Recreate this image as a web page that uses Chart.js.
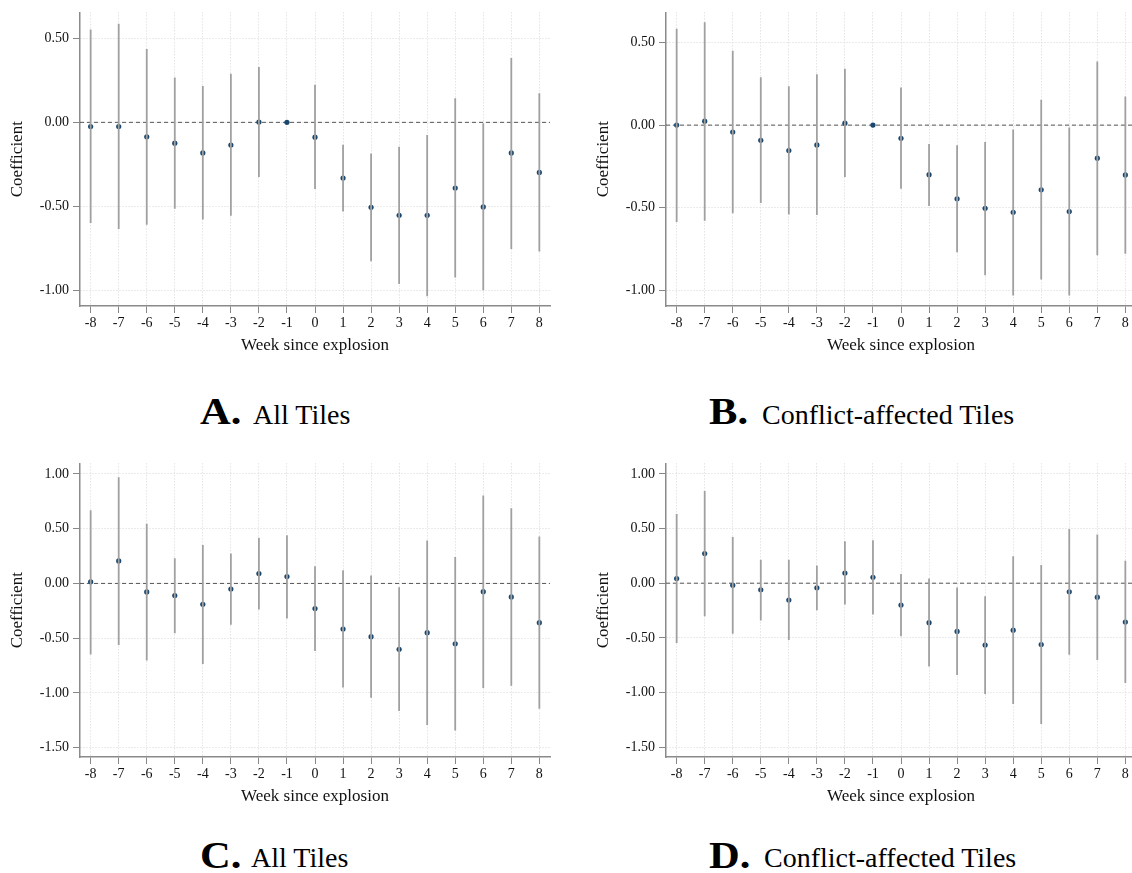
<!DOCTYPE html>
<html>
<head>
<meta charset="utf-8">
<script src="https://cdn.jsdelivr.net/npm/chart.js@4"></script>
<style>
  html, body { margin: 0; padding: 0; background: #fff; overflow: hidden; }
  body { width: 1132px; height: 873px; position: relative; font-family: 'Liberation Serif', serif; }
  .panel { position: absolute; }
  .cap { position: absolute; line-height: 1; white-space: nowrap; color: #000; }
  .cap b { font-weight: bold; display: inline-block; transform: scaleX(1.15); transform-origin: left center; }
</style>
</head>
<body>

<div class="panel" style="left:0px;top:0px"><canvas id="chartA" width="566" height="356"></canvas></div>
<div class="panel" style="left:586px;top:0px"><canvas id="chartB" width="566" height="356"></canvas></div>
<div class="panel" style="left:0px;top:451px"><canvas id="chartC" width="566" height="356"></canvas></div>
<div class="panel" style="left:586px;top:451px"><canvas id="chartD" width="566" height="356"></canvas></div>

<div class="cap" style="left:200px;top:393px;font-size:37px"><b>A.</b></div>
<div class="cap" style="left:253px;top:401px;font-size:28px">All Tiles</div>
<div class="cap" style="left:709px;top:393px;font-size:37px"><b>B.</b></div>
<div class="cap" style="left:762px;top:401px;font-size:28px">Conflict-affected Tiles</div>
<div class="cap" style="left:200px;top:837px;font-size:37px"><b>C.</b></div>
<div class="cap" style="left:251px;top:844px;font-size:28px">All Tiles</div>
<div class="cap" style="left:709px;top:837px;font-size:37px"><b>D.</b></div>
<div class="cap" style="left:764px;top:844px;font-size:28px">Conflict-affected Tiles</div>

<script>
// weeks since explosion (x categories)
const weeks = [-8, -7, -6, -5, -4, -3, -2, -1, 0, 1, 2, 3, 4, 5, 6, 7, 8];

// y tick labels
const yTicksTop = [-1.0, -0.5, 0.0, 0.5];
const yTicksBottom = [-1.5, -1.0, -0.5, 0.0, 0.5, 1.0];

// A. All Tiles (top)
const coefA = [-0.025, -0.025, -0.086, -0.124, -0.182, -0.135, 0.002, 0, -0.088, -0.332, -0.506, -0.554, -0.554, -0.391, -0.504, -0.182, -0.298];
const loA   = [-0.600, -0.636, -0.610, -0.514, -0.578, -0.557, -0.325, 0, -0.397, -0.531, -0.827, -0.963, -1.036, -0.924, -1.000, -0.755, -0.769];
const hiA   = [0.553, 0.588, 0.437, 0.267, 0.216, 0.290, 0.330, 0, 0.224, -0.133, -0.186, -0.145, -0.075, 0.143, -0.005, 0.384, 0.173];

// B. Conflict-affected Tiles (top)
const coefB = [0.000, 0.024, -0.042, -0.092, -0.154, -0.120, 0.012, 0, -0.080, -0.300, -0.446, -0.504, -0.528, -0.392, -0.524, -0.200, -0.302];
const loB   = [-0.587, -0.580, -0.534, -0.472, -0.542, -0.544, -0.314, 0, -0.386, -0.490, -0.770, -0.910, -1.032, -0.935, -1.033, -0.788, -0.780];
const hiB   = [0.584, 0.624, 0.450, 0.290, 0.236, 0.308, 0.342, 0, 0.228, -0.114, -0.122, -0.102, -0.026, 0.154, -0.014, 0.386, 0.174];

// C. All Tiles (bottom)
const coefC = [0.015, 0.205, -0.078, -0.111, -0.191, -0.051, 0.090, 0.063, -0.229, -0.416, -0.486, -0.602, -0.450, -0.551, -0.075, -0.123, -0.358];
const loC   = [-0.648, -0.563, -0.703, -0.456, -0.735, -0.377, -0.238, -0.320, -0.616, -0.950, -1.044, -1.165, -1.292, -1.343, -0.955, -0.935, -1.145];
const hiC   = [0.669, 0.970, 0.545, 0.229, 0.352, 0.274, 0.416, 0.440, 0.157, 0.120, 0.072, -0.036, 0.392, 0.241, 0.804, 0.687, 0.428];

// D. Conflict-affected Tiles (bottom)
const coefD = [0.042, 0.271, -0.018, -0.060, -0.154, -0.042, 0.093, 0.054, -0.200, -0.361, -0.441, -0.566, -0.430, -0.561, -0.078, -0.128, -0.355];
const loD   = [-0.546, -0.302, -0.462, -0.341, -0.520, -0.247, -0.195, -0.286, -0.486, -0.762, -0.839, -1.013, -1.105, -1.288, -0.655, -0.702, -0.913];
const hiD   = [0.633, 0.843, 0.422, 0.214, 0.214, 0.163, 0.383, 0.392, 0.084, 0.042, -0.039, -0.120, 0.247, 0.166, 0.497, 0.446, 0.205];

Chart.defaults.font.family = "'Liberation Serif', 'Times New Roman', serif";
Chart.defaults.color = '#111';

// dashed line at 0
const zeroLine = {
  id: 'zeroLine',
  beforeDatasetsDraw(chart) {
    const {ctx, chartArea, scales} = chart;
    const y = scales.y.getPixelForValue(0);
    ctx.save();
    ctx.strokeStyle = '#555';
    ctx.lineWidth = 1;
    ctx.setLineDash([4, 3]);
    ctx.beginPath();
    ctx.moveTo(chartArea.left, y);
    ctx.lineTo(chartArea.right, y);
    ctx.stroke();
    ctx.restore();
  }
};

function makePanel(id, coef, lo, hi, yMin, yMax, yTicks) {
  const ciData = weeks.flatMap((w, i) => [
    {x: w, y: lo[i]}, {x: w, y: hi[i]}, {x: w, y: null}
  ]);
  const ptData = weeks.map((w, i) => ({x: w, y: coef[i]}));

  return new Chart(document.getElementById(id), {
    type: 'scatter',
    data: {
      datasets: [
        {
          type: 'line',
          data: ciData,
          borderColor: '#a0a0a0',
          borderWidth: 1.8,
          pointRadius: 0,
          spanGaps: false,
          fill: false
        },
        {
          data: ptData,
          backgroundColor: '#1a476f',
          borderWidth: 0,
          pointRadius: 2.6
        }
      ]
    },
    options: {
      responsive: false,
      animation: false,
      devicePixelRatio: 1,
      layout: { padding: { top: 8, right: 16, left: 0, bottom: 0 } },
      plugins: { legend: { display: false }, tooltip: { enabled: false } },
      scales: {
        x: {
          type: 'linear',
          min: -8.38,
          max: 8.38,
          afterBuildTicks: axis => { axis.ticks = weeks.map(v => ({value: v})); },
          afterFit: scale => { scale.height = 50; },
          ticks: {
            autoSkip: false,
            maxRotation: 0,
            padding: 2,
            font: { size: 14 },
            callback: v => String(v)
          },
          grid: {
            color: '#d6d6d6',
            lineWidth: 1,
            tickColor: '#888',
            tickLength: 7,
            tickWidth: 1
          },
          border: { color: '#8a8a8a', width: 1.5, dash: [1, 2] },
          title: {
            display: true,
            text: 'Week since explosion',
            font: { size: 17 },
            padding: 0
          }
        },
        y: {
          min: yMin,
          max: yMax,
          afterBuildTicks: axis => { axis.ticks = yTicks.map(v => ({value: v})); },
          afterFit: scale => { scale.width = 80; },
          ticks: {
            padding: 4,
            font: { size: 14 },
            callback: v => v.toFixed(2)
          },
          grid: {
            color: '#d6d6d6',
            lineWidth: 1,
            tickColor: '#888',
            tickLength: 7,
            tickWidth: 1
          },
          border: { color: '#8a8a8a', width: 1.5, dash: [1, 2] },
          title: {
            display: true,
            text: 'Coefficient',
            font: { size: 17 },
            padding: { top: 7, bottom: 0 }
          }
        }
      }
    },
    plugins: [zeroLine]
  });
}

makePanel('chartA', coefA, loA, hiA, -1.094, 0.655, yTicksTop);
makePanel('chartB', coefB, loB, hiB, -1.096, 0.683, yTicksTop);
makePanel('chartC', coefC, loC, hiC, -1.585, 1.096, yTicksBottom);
makePanel('chartD', coefD, loD, hiD, -1.590, 1.096, yTicksBottom);
</script>
</body>
</html>
